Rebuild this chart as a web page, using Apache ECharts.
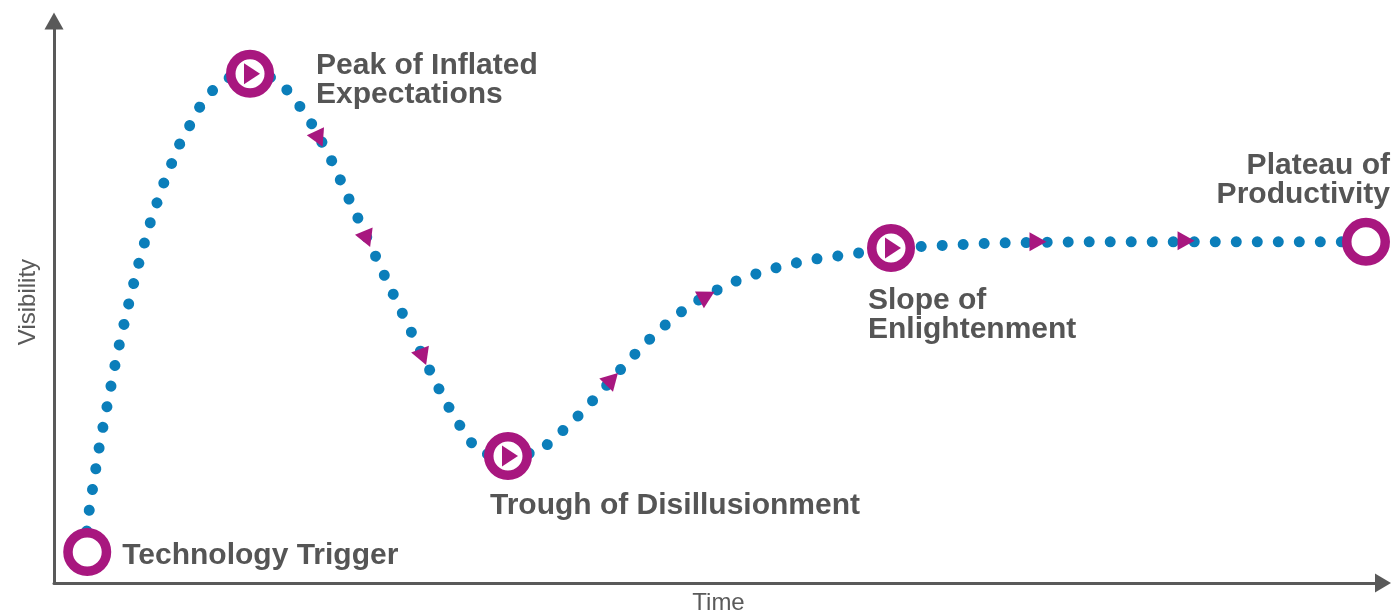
<!DOCTYPE html>
<html>
<head>
<meta charset="utf-8">
<title>Hype Cycle</title>
<script src="https://cdn.jsdelivr.net/npm/echarts@6/dist/echarts.min.js"></script>
<style>
    html, body {margin:0; padding:0; background:#fff;}
    #main {width:1392px; height:614px;}
</style>
</head>
<body>
<div id="main"></div>
<script>
    // the hype curve (time 0-100, visibility 0-100)
    var curveX = [2.5, 2.46, 2.96, 3.48, 4.12, 4.74, 5.47, 6.25, 7.13, 8.18, 9.41, 10.99, 11.99, 13.17, 14.75,
        16.48, 17.68, 18.66, 19.56, 20.84, 22.2, 23.6, 24.98, 26.41, 27.84, 29.35, 31.0, 32.05, 34.16,
        36.49, 37.77, 38.98, 41.0, 43.12, 45.37, 47.86, 50.71, 53.65, 56.81, 59.97, 62.98,
        66.21, 70.8, 76.98, 83.22, 89.47, 94.06, 98.72];
    var curveY = [5.5, 10.0, 17.6, 25.3, 33.0, 40.6, 48.2, 55.8, 63.3, 70.7, 77.9, 84.8, 87.8, 89.9, 90.6,
        89.9, 87.4, 84.3, 81.1, 75.4, 68.3, 61.2, 54.1, 47.0, 39.9, 32.7, 26.2, 23.1, 22.6,
        23.3, 26.0, 28.6, 33.6, 39.3, 44.7, 49.5, 53.2, 55.7, 57.5, 58.5, 59.6,
        60.0, 60.5, 60.7, 60.7, 60.7, 60.7, 60.7];

    // the five stages
    var stageNames = ['Technology Trigger', 'Peak of Inflated\nExpectations', 'Trough of Disillusionment',
        'Slope of\nEnlightenment', 'Plateau of\nProductivity'];
    var stageX = [2.5, 14.75, 34.16, 62.98, 98.72];
    var stageY = [5.5, 90.6, 22.6, 59.6, 60.7];
    var stageHasPlay = [false, true, true, true, false];

    // small arrows along the curve, with direction of travel in degrees
    var arrowX = [19.94, 23.55, 27.77, 41.99, 49.13, 74.04, 85.18];
    var arrowY = [79.0, 61.2, 40.2, 36.3, 51.1, 60.7, 60.9];
    var arrowDir = [-65, -68, -69, 46, 28, 0, 0];

    var magenta = '#A8177F';
    var blue = '#0B7EBA';
    var grey = '#555555';

    // label placement per stage: [align, dx, dy]
    var labelPlace = [['left', 35, 4], ['left', 66, 6], ['left', -18, 50], ['left', -23, 67], ['right', 24, -62]];

    var chart = echarts.init(document.getElementById('main'));

    var curveData = curveX.map(function (x, i) { return [x, curveY[i]]; });

    var stageData = stageX.map(function (x, i) {
        return {
            value: [x, stageY[i]],
            name: stageNames[i],
            label: {
                align: labelPlace[i][0],
                offset: [labelPlace[i][1], labelPlace[i][2]]
            }
        };
    });

    var playData = [];
    stageX.forEach(function (x, i) {
        if (stageHasPlay[i]) playData.push([x, stageY[i]]);
    });

    var arrowData = arrowX.map(function (x, i) {
        return {value: [x, arrowY[i]], symbolRotate: arrowDir[i] - 90};
    });

    var option = {
        animation: false,
        grid: {left: 54, right: 9, top: 21, bottom: 31, outerBoundsMode: 'none', containLabel: false},
        xAxis: {
            type: 'value', min: 0, max: 100,
            name: 'Time', nameLocation: 'middle', nameGap: 8,
            nameTextStyle: {color: '#5a5a5a', fontSize: 24, fontFamily: 'Liberation Sans', verticalAlign: 'top'},
            axisLine: {show: true, symbol: ['none', 'triangle'], symbolSize: [19, 16],
                lineStyle: {color: '#595959', width: 3}},
            axisTick: {show: false}, axisLabel: {show: false}, splitLine: {show: false}
        },
        yAxis: {
            type: 'value', min: 0, max: 100,
            name: 'Visibility', nameLocation: 'middle', nameGap: 14, nameRotate: 90,
            nameTextStyle: {color: '#5a5a5a', fontSize: 24, fontFamily: 'Liberation Sans'},
            axisLine: {show: true, symbol: ['none', 'triangle'], symbolSize: [19, 17],
                lineStyle: {color: '#595959', width: 3}},
            axisTick: {show: false}, axisLabel: {show: false}, splitLine: {show: false}
        },
        series: [
            {
                type: 'line',
                data: curveData,
                showSymbol: false,
                smooth: false,
                z: 2,
                lineStyle: {color: blue, width: 11, type: [0.01, 21], cap: 'round', join: 'round'}
            },
            {
                type: 'scatter',
                data: arrowData,
                symbol: 'triangle',
                symbolSize: [19, 17],
                z: 3,
                itemStyle: {color: magenta, opacity: 1}
            },
            {
                type: 'scatter',
                data: stageData,
                symbol: 'circle',
                symbolSize: 38.5,
                z: 4,
                itemStyle: {color: '#fff', borderColor: magenta, borderWidth: 9.5, opacity: 1},
                label: {
                    show: true,
                    position: 'inside',
                    formatter: '{b}',
                    color: grey,
                    fontSize: 30,
                    fontWeight: 'bold',
                    fontFamily: 'Liberation Sans',
                    lineHeight: 29,
                    verticalAlign: 'middle'
                }
            },
            {
                type: 'scatter',
                data: playData,
                symbol: 'triangle',
                symbolSize: [21, 16],
                symbolRotate: -90,
                symbolOffset: [2, 0],
                z: 5,
                itemStyle: {color: magenta, opacity: 1}
            }
        ]
    };

    chart.setOption(option);
</script>
</body>
</html>
